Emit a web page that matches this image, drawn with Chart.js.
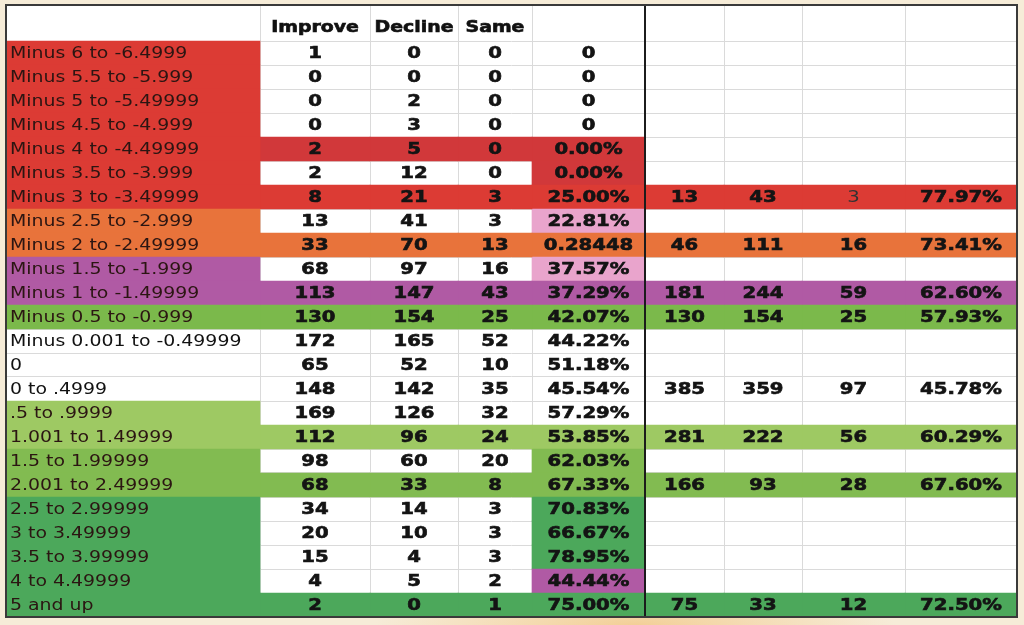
<!DOCTYPE html>
<html>
<head>
<meta charset="utf-8">
<title>Improve / Decline / Same</title>
<script src="https://cdn.jsdelivr.net/npm/chart.js@4"></script>
<style>
	html, body {
		margin: 0;
		padding: 0;
		background: radial-gradient(ellipse 260px 40px at 62% 100%, #f3cf97 0%, #f6ecd8 100%);
		background-color: #f6ecd8;
	}
	canvas {
		display: block;
	}
</style>
</head>
<body>
<canvas id="table" width="1024" height="625"></canvas>
<script>
/* table content */
const rowLabels = [
	"Minus 6 to -6.4999", "Minus 5.5 to -5.999", "Minus 5 to -5.49999", "Minus 4.5 to -4.999",
	"Minus 4 to -4.49999", "Minus 3.5 to -3.999", "Minus 3 to -3.49999", "Minus 2.5 to -2.999",
	"Minus 2 to -2.49999", "Minus 1.5 to -1.999", "Minus 1 to -1.49999", "Minus 0.5 to -0.999",
	"Minus 0.001 to -0.49999", "0", "0 to .4999", ".5 to .9999",
	"1.001 to 1.49999", "1.5 to 1.99999", "2.001 to 2.49999", "2.5 to 2.99999",
	"3 to 3.49999", "3.5 to 3.99999", "4 to 4.49999", "5 and up"
];
const headers = ["", "Improve", "Decline", "Same", "", "", "", "", ""];
const improve = [1, 0, 0, 0, 2, 2, 8, 13, 33, 68, 113, 130, 172, 65, 148, 169, 112, 98, 68, 34, 20, 15, 4, 2];
const decline = [0, 0, 2, 3, 5, 12, 21, 41, 70, 97, 147, 154, 165, 52, 142, 126, 96, 60, 33, 14, 10, 4, 5, 0];
const same = [0, 0, 0, 0, 0, 0, 3, 3, 13, 16, 43, 25, 52, 10, 35, 32, 24, 20, 8, 3, 3, 3, 2, 1];
const ratio = [
	"0", "0", "0", "0", "0.00%", "0.00%", "25.00%", "22.81%",
	"0.28448", "37.57%", "37.29%", "42.07%", "44.22%", "51.18%", "45.54%", "57.29%",
	"53.85%", "62.03%", "67.33%", "70.83%", "66.67%", "78.95%", "44.44%", "75.00%"
];
/* grouped totals on the right, null where the row is empty */
const groupImprove = [null, null, null, null, null, null, 13, null, 46, null, 181, 130, null, null, 385, null, 281, null, 166, null, null, null, null, 75];
const groupDecline = [null, null, null, null, null, null, 43, null, 111, null, 244, 154, null, null, 359, null, 222, null, 93, null, null, null, null, 33];
const groupSame = [null, null, null, null, null, null, 3, null, 16, null, 59, 25, null, null, 97, null, 56, null, 28, null, null, null, null, 12];
const groupRatio = [null, null, null, null, null, null, "77.97%", null, "73.41%", null, "62.60%", "57.93%", null, null, "45.78%", null, "60.29%", null, "67.60%", null, null, null, null, "72.50%"];

/* styling */
const palette = {
	w: "rgba(0,0,0,0)",
	r: "#dc3b34",
	R: "#d1383a",
	o: "#e8733b",
	p: "#b05aa4",
	k: "#e9a4cc",
	g: "#7bb94b",
	l: "#9ec963",
	m: "#82bb51",
	d: "#4ca85b"
};
const labelBand = "rrrrrrroopp" + "gwwwllmmddddd";
const cellBand = "wwwwRwrwowpgwwwwlwmwwwwd";
const ratioBand = "wwwwRRrkokpgwwwwlmmdddpd";
const colWidths = [254, 110, 88, 74, 113, 79, 78, 103, 112];
const colEdges = colWidths.reduce((acc, w) => {
	acc.push(acc[acc.length - 1] + w);
	return acc;
}, [0]);
const dividerCol = 5;
const thinCells = ["6-7"];
const labelStretch = 1.26;
const numberStretch = 1.31;

const columns = [
	rowLabels, improve, decline, same, ratio,
	groupImprove, groupDecline, groupSame, groupRatio
];

function bandsFor(col) {
	if (col === 0) return labelBand.split("");
	if (col <= 3) return cellBand.split("");
	if (col === 4) return ratioBand.split("");
	return cellBand.split("").map((b, i) => (groupImprove[i] === null ? "w" : b));
}

const datasets = columns.map((values, col) => ({
	label: headers[col] || "col" + col,
	data: rowLabels.map((_, i) => ({ x: [colEdges[col], colEdges[col + 1]], y: i + 0.5 })),
	backgroundColor: bandsFor(col).map(b => palette[b]),
	borderWidth: 0,
	grouped: false,
	barPercentage: 1,
	categoryPercentage: 1
}));

function drawText(ctx, text, x, y, align, stretch, heavy) {
	ctx.save();
	ctx.translate(x, y);
	ctx.scale(stretch, 1);
	ctx.textAlign = align;
	ctx.fillText(text, 0, 0);
	if (heavy) {
		/*Verdana bold is heavier than DejaVu bold*/
		ctx.lineWidth = 0.6;
		ctx.strokeStyle = ctx.fillStyle;
		ctx.strokeText(text, 0, 0);
	}
	ctx.restore();
}

const tablePlugin = {
	id: "tableText",
	beforeDraw(chart) {
		const { ctx, chartArea } = chart;
		ctx.save();
		ctx.fillStyle = "#ffffff";
		ctx.fillRect(chartArea.left, chartArea.top, chartArea.width, chartArea.height);
		ctx.restore();
	},
	afterDatasetsDraw(chart) {
		const { ctx, chartArea } = chart;
		const xs = chart.scales.x;
		const ys = chart.scales.y;
		ctx.save();
		ctx.textBaseline = "middle";

		/*header row*/
		ctx.fillStyle = "#111111";
		ctx.font = "bold 15px 'DejaVu Sans'";
		headers.forEach((h, col) => {
			if (!h) return;
			const cx = xs.getPixelForValue((colEdges[col] + colEdges[col + 1]) / 2);
			drawText(ctx, h, cx, ys.getPixelForValue(-0.55), "center", labelStretch, true);
		});

		/*body rows*/
		rowLabels.forEach((label, i) => {
			const cy = ys.getPixelForValue(i + 0.5) + 1;
			ctx.font = "15px 'DejaVu Sans'";
			ctx.fillStyle = labelBand[i] === "w" ? "#111111" : "#2b1512";
			drawText(ctx, label, xs.getPixelForValue(colEdges[0]) + 4, cy, "left", labelStretch, false);
			for (let col = 1; col < columns.length; col++) {
				const v = columns[col][i];
				if (v === null || v === undefined) continue;
				const thin = thinCells.includes(i + "-" + col);
				ctx.font = (thin ? "" : "bold ") + "15px 'DejaVu Sans'";
				ctx.fillStyle = thin ? "#333333" : "#141414";
				const cx = xs.getPixelForValue((colEdges[col] + colEdges[col + 1]) / 2);
				drawText(ctx, String(v), cx, cy, "center", numberStretch, !thin);
			}
		});

		/*thick divider and outer frame*/
		const dx = xs.getPixelForValue(colEdges[dividerCol]);
		ctx.strokeStyle = "#1c1c1c";
		ctx.lineWidth = 2;
		ctx.beginPath();
		ctx.moveTo(dx, chartArea.top);
		ctx.lineTo(dx, chartArea.bottom);
		ctx.stroke();
		ctx.strokeStyle = "#3a3a3a";
		ctx.strokeRect(chartArea.left, chartArea.top, chartArea.width, chartArea.height);
		ctx.restore();
	}
};

new Chart(document.getElementById("table"), {
	type: "bar",
	data: { datasets },
	plugins: [tablePlugin],
	options: {
		indexAxis: "y",
		responsive: false,
		animation: false,
		devicePixelRatio: 1,
		layout: { padding: { left: 6, top: 5, right: 7, bottom: 8 } },
		plugins: {
			legend: { display: false },
			tooltip: { enabled: false }
		},
		scales: {
			x: {
				type: "linear",
				min: 0,
				max: colEdges[colEdges.length - 1],
				afterBuildTicks: scale => {
					scale.ticks = colEdges.map(v => ({ value: v }));
				},
				afterFit: scale => {
					scale.height = 0;
				},
				ticks: { display: false },
				border: { display: false },
				grid: { color: "#dadada", lineWidth: 1, drawTicks: false, offset: false }
			},
			y: {
				type: "linear",
				reverse: true,
				offset: false,
				min: -1.5,
				max: rowLabels.length,
				afterBuildTicks: scale => {
					scale.ticks = [-1.5].concat(rowLabels.map((_, i) => i), [rowLabels.length]).map(v => ({ value: v }));
				},
				afterFit: scale => {
					scale.width = 0;
				},
				ticks: { display: false },
				border: { display: false },
				grid: { color: "#dadada", lineWidth: 1, drawTicks: false, offset: false }
			}
		}
	}
});
</script>
</body>
</html>
